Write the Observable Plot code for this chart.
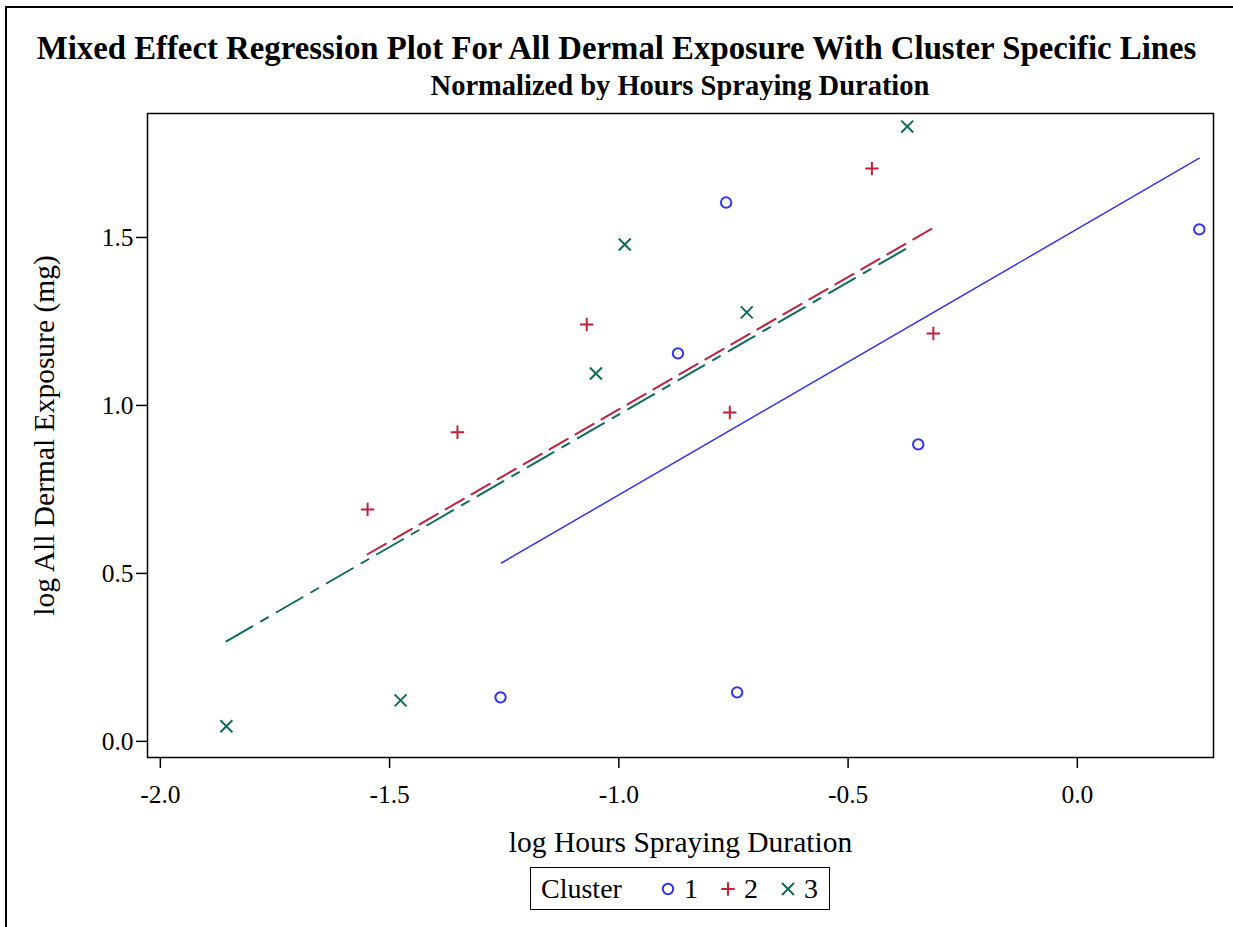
<!DOCTYPE html>
<html>
<head>
<meta charset="utf-8">
<script src="https://cdn.jsdelivr.net/npm/d3@7"></script>
<script src="https://cdn.jsdelivr.net/npm/@observablehq/plot@0.6"></script>
<style>
  html, body { margin: 0; padding: 0; background: #fff; }
  #wrap { position: relative; width: 1233px; height: 927px; overflow: hidden; font-family: "Liberation Serif", "Times New Roman", serif; background: #fff; }
  .edge { position: absolute; background: #000; z-index: 5; }
  #edgeTop { left: 5px; top: 6px; width: 1228px; height: 2px; }
  #edgeLeft { left: 5px; top: 6px; width: 2px; height: 921px; }
  #title { position: absolute; left: 0; width: 1233px; top: 32px; text-align: center; font-weight: bold; font-size: 32.8px; line-height: 1; white-space: nowrap; }
  #subtitle { position: absolute; left: 147px; width: 1066px; top: 72px; text-align: center; font-weight: bold; font-size: 28.5px; line-height: 1; white-space: nowrap; }
  #chart { position: absolute; left: 0; top: 100px; }
  #legend { position: absolute; left: 530px; top: 867px; width: 298px; height: 41px; border: 1.5px solid #000; font-size: 28px; }
  #legend .lab { position: absolute; left: 10px; top: 50%; transform: translateY(-50%); }
  #legend .sym { position: absolute; top: 50%; transform: translate(-50%, -50%); }
  #legend .val { position: absolute; top: 50%; transform: translate(-50%, -50%); }
</style>
</head>
<body>
<div id="wrap">
  <div id="title">Mixed Effect Regression Plot For All Dermal Exposure With Cluster Specific Lines</div>
  <div id="subtitle">Normalized by Hours Spraying Duration</div>
  <div id="chart"></div>
  <div id="legend"></div>
  <div class="edge" id="edgeTop"></div>
  <div class="edge" id="edgeLeft"></div>
</div>
<script>
// ---- data ----
const clusters = ["1", "2", "3"];
const clusterColors = ["#3535ee", "#c0223c", "#0f6b5c"];
const clusterSymbols = ["circle", "plus", "times"];

const c1X = [-1.258, -0.871, -0.766, -0.742, -0.347, 0.266];
const c1Y = [0.131, 1.155, 1.604, 0.146, 0.884, 1.524];
const c2X = [-1.548, -1.352, -1.070, -0.758, -0.448, -0.314];
const c2Y = [0.690, 0.920, 1.241, 0.979, 1.705, 1.214];
const c3X = [-1.856, -1.476, -1.050, -0.987, -0.721, -0.371];
const c3Y = [0.045, 0.122, 1.095, 1.479, 1.277, 1.830];

// cluster-specific fitted lines (endpoints)
const fit1X = [-1.256, 0.266];
const fit1Y = [0.531, 1.736];
const fit2X = [-1.548, -0.312];
const fit2Y = [0.557, 1.530];
const fit3X = [-1.856, -0.369];
const fit3Y = [0.298, 1.470];

const xTicks = [-2.0, -1.5, -1.0, -0.5, 0.0];
const yTicks = [0.0, 0.5, 1.0, 1.5];
const xLabel = "log Hours Spraying Duration";
const yLabel = "log All Dermal Exposure (mg)";
const legendTitle = "Cluster";

// ---- build tables ----
const pts = [[c1X, c1Y], [c2X, c2Y], [c3X, c3Y]].map(([xs, ys], i) =>
  xs.map((x, j) => ({x, y: ys[j], cluster: clusters[i]})));
const fits = [[fit1X, fit1Y], [fit2X, fit2Y], [fit3X, fit3Y]].map(([xs, ys], i) =>
  xs.map((x, j) => ({x, y: ys[j], cluster: clusters[i]})));

const fmt = d => d.toFixed(1);
const serif = "Liberation Serif, Times New Roman, serif";
const symR = {circle: 5.2, plus: 4.4, times: 5.5};

const chart = Plot.plot({
  width: 1233,
  height: 770,
  marginTop: 13,
  marginLeft: 147,
  marginRight: 20,
  marginBottom: 113,
  style: {fontFamily: serif, background: "white", overflow: "visible"},
  x: {domain: [-2.028, 0.297]},
  y: {domain: [-0.048, 1.869]},
  marks: [
    Plot.frame({stroke: "#000", strokeWidth: 1.5}),
    Plot.axisX({ticks: xTicks, tickFormat: fmt, tickSize: 11, tickPadding: 16, fontSize: 25.5, label: null, stroke: "#000", strokeWidth: 1.5}),
    Plot.axisY({ticks: yTicks, tickFormat: fmt, tickSize: 11, tickPadding: 3, fontSize: 25.5, label: null, stroke: "#000", strokeWidth: 1.5}),
    Plot.text([xLabel], {frameAnchor: "bottom", dy: 94, text: d => d, fontSize: 29.5, fill: "#000"}),
    Plot.text([yLabel], {frameAnchor: "left", textAnchor: "middle", dx: -103, rotate: -90, text: d => d, fontSize: 29.5, fill: "#000"}),
    Plot.line(fits[0], {x: "x", y: "y", stroke: clusterColors[0], strokeWidth: 1.5}),
    Plot.line(fits[1], {x: "x", y: "y", stroke: clusterColors[1], strokeWidth: 2, strokeDasharray: "21,9"}),
    Plot.line(fits[2], {x: "x", y: "y", stroke: clusterColors[2], strokeWidth: 2, strokeDasharray: "30,10,8,10"}),
    ...pts.map((p, i) => Plot.dot(p, {x: "x", y: "y", symbol: () => clusterSymbols[i], r: symR[clusterSymbols[i]], stroke: clusterColors[i], strokeWidth: 2, fill: "none"}))
  ]
});
document.getElementById("chart").appendChild(chart);

// ---- legend ----
const legend = d3.select("#legend");
legend.append("span").attr("class", "lab").text(legendTitle);
const symPaths = {circle: d3.symbolCircle, plus: d3.symbolPlus, times: d3.symbolTimes};
clusters.forEach((c, i) => {
  const sym = clusterSymbols[i];
  const cx = 137 + 60 * i;
  const s = legend.append("svg").attr("class", "sym").style("left", cx + "px")
    .attr("width", 16).attr("height", 16).attr("viewBox", "-8 -8 16 16");
  s.append("path")
    .attr("d", d3.symbol(symPaths[sym], Math.PI * symR[sym] * symR[sym])())
    .attr("fill", "none").attr("stroke", clusterColors[i]).attr("stroke-width", 2);
  legend.append("span").attr("class", "val").style("left", (cx + 23) + "px").text(c);
});
</script>
</body>
</html>
